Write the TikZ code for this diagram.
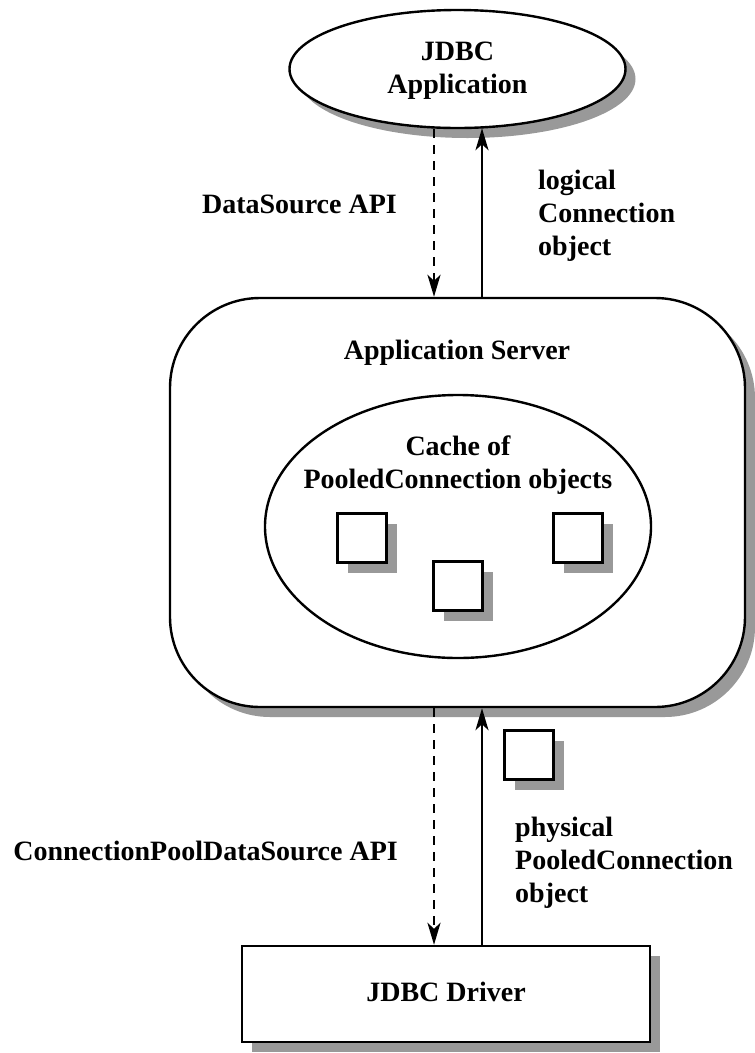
\documentclass[tikz,border=0pt]{standalone}
\usepackage{fontspec}
\setmainfont{Liberation Serif}
\usetikzlibrary{shapes,arrows,arrows.meta}
\usetikzlibrary{calc,shadows}

\tikzset{
	shade/.style={drop shadow={shadow xshift=10pt, shadow yshift=-10pt, fill=black!40, opacity=1}},
	box/.style={draw, fill=white, line width=2.4pt, shade},
	pc/.style={box, minimum size=49pt, inner sep=0pt},
	lbl/.style={font=\fontsize{28}{33}\selectfont\bfseries, align=left, inner sep=0pt},
	conn/.style={line width=2.6pt, -{Stealth[length=22pt,width=13pt,inset=6pt]}},
}

\begin{document}
\begin{tikzpicture}[x=1pt, y=-1pt]
	\useasboundingbox (0,0) rectangle (755,1053);
	
	% application on top
	\node[box, ellipse, minimum width=336pt, minimum height=118pt, inner sep=0pt] (app) at (457.5,69) {};
	\node[lbl, align=center] (appname) at (457.5,71) {JDBC\\Application};
	
	% application server with the cache
	\node[box, rectangle, rounded corners=90pt, minimum width=575pt, minimum height=409pt] (server) at (457.5,502.5) {};
	\node[lbl, align=center] (servername) at (457,353) {Application Server};
	\node[draw, ellipse, line width=2.4pt, minimum width=386pt, minimum height=263pt, inner sep=0pt] (cache) at (458,526.5) {};
	\node[lbl, align=center] (cachename) at (458,465) {Cache of\\PooledConnection objects};
	
	% pooled connections in the cache
	\node[pc] (pca) at (362,538) {};
	\node[pc] (pcb) at (458,586) {};
	\node[pc] (pcc) at (578,538) {};
	
	% driver at the bottom
	\node[box, rectangle, minimum width=408pt, minimum height=96pt] (driver) at (446,994) {};
	\node[lbl] (drivername) at (446,992) {JDBC Driver};
	
	% x of the two arrows
	\coordinate (dn) at (434,0);
	\coordinate (up) at (482,0);
	
	% upper arrows
	\draw[conn, dash pattern=on 9pt off 7pt] (app.south -| dn) -- (server.north -| dn);
	\draw[conn] (server.north -| up) -- ($(app.south -| up)+(0,-1)$);
	\node[lbl, anchor=east] (dsapi) at (397,204) {DataSource API};
	\node[lbl, anchor=west] (logical) at (538,216) {logical\\Connection\\object};
	
	% lower arrows
	\draw[conn, dash pattern=on 9pt off 7pt] (server.south -| dn) -- (driver.north -| dn);
	\draw[conn] (driver.north -| up) -- (server.south -| up);
	\node[pc] (pcd) at (529,755) {};
	\node[lbl, anchor=east] (cpdsapi) at (398,851) {ConnectionPoolDataSource API};
	\node[lbl, anchor=west] (physical) at (515,863) {physical\\PooledConnection\\object};
\end{tikzpicture}
\end{document}
